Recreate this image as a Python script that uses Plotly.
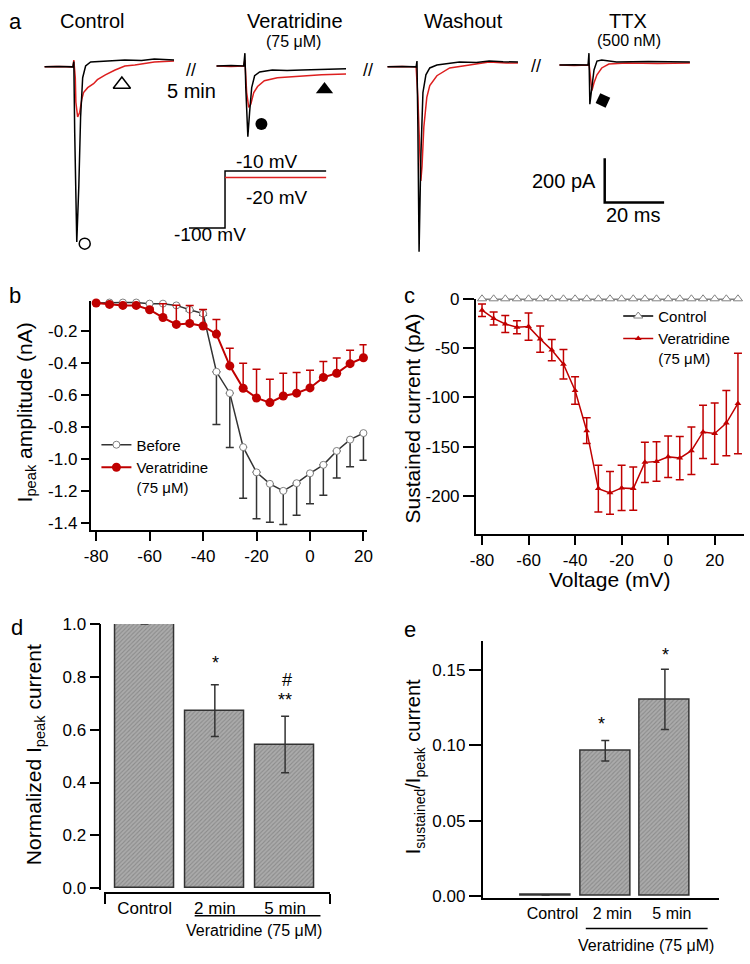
import plotly.graph_objects as go

W, H = 750, 964
FONT = "Liberation Sans, Arial, sans-serif"
RED_TRACE = "#dd1f1f"
RED = "#c00000"
DARK = "#333333"


def fx(px):
    return px / W


def fy(py):
    return 1 - py / H


# ---------------- panel a: example currents (time in ms, current in pA)
ctrl_black_t = [0, 5, 9.7, 10.0, 10.3, 11.0, 11.7, 12.3, 13.0, 14.0, 15.7, 19.0, 23, 27.3, 33, 37.3, 41, 44.0]
ctrl_black_i = [-4, -2, -4, 20, -300, -796, -542, -231, -53, 0, 18, 22, 24, 27, 25, 31, 28, 27]
ctrl_red_t = [0, 4, 9.7, 10.0, 10.5, 10.7, 11.3, 12.0, 12.7, 13.3, 14.7, 15.7, 16.7, 18.0, 20.7, 24.0, 27.3, 30.7, 37.3, 44.0]
ctrl_red_i = [-4, -2, -4, 27, -53, -164, -231, -209, -151, -120, -98, -89, -80, -62, -40, -18, 0, 4, 18, 22]

vera_black_t = [0, 5, 9.3, 9.7, 10.0, 10.7, 11.3, 12.0, 13.0, 14.7, 19.0, 24, 29.0, 36, 44.0]
vera_black_i = [0, 2, 0, 58, -98, -320, -209, -98, -44, -27, -18, -20, -18, -15, -13]
vera_red_t = [0, 5, 9.3, 9.7, 10.3, 11.0, 11.7, 12.7, 14.0, 16.3, 20.7, 29.0, 35.7, 44.0]
vera_red_i = [0, -2, 0, 27, -120, -187, -173, -120, -93, -67, -53, -44, -40, -36]

wash_black_t = [0, 5, 9.7, 10.0, 10.3, 10.7, 11.3, 12.0, 13.0, 14.3, 16.7, 24.3, 30, 34.3, 39, 44.0]
wash_black_i = [-4, -2, -4, 22, -276, -840, -409, -120, -40, -9, 4, 18, 16, 22, 19, 18]
wash_red_t = [0, 5, 9.7, 10.3, 11.0, 11.3, 11.7, 12.3, 13.3, 14.3, 16.7, 21.0, 27.7, 34.3, 40, 44.0]
wash_red_i = [-4, -2, -4, -142, -409, -520, -453, -276, -142, -89, -44, -9, 4, 18, 14, 13]

ttx_black_t = [0, 5, 9.7, 10.0, 10.3, 11.0, 11.7, 12.7, 14.3, 19.3, 30, 44.0]
ttx_black_i = [4, 6, 4, 58, -173, -98, -18, 22, 27, 18, 20, 18]
ttx_red_t = [0, 5, 9.7, 10.0, 10.7, 11.0, 11.7, 12.7, 14.3, 16.7, 22.7, 33, 44.0]
ttx_red_i = [4, 2, 4, 13, -76, -111, -76, -40, -9, 9, 13, 11, 13]

# symbols that mark where values were measured (time ms, current pA)
sym_ctrl_sust = (26.3, -84)
sym_ctrl_peak = (13.7, -804)
sym_vera_peak = (15.3, -262)
sym_vera_sust = (36.7, -107)
sym_ttx_peak = (14.7, -156)

# scale bar
scale_ms = 20
scale_pa = 200
scale_origin = (15.3, -618)

# voltage protocol (ms, mV)
proto_black_t = [0, 12.3, 12.3, 46.7]
proto_black_v = [-100, -100, -10, -10]
proto_red_t = [12.3, 46.7]
proto_red_v = [-20, -20]

# ---------------- panel b: I-V of peak current
b_volt = [-80, -75, -70, -65, -60, -55, -50, -45, -40, -35, -30, -25, -20, -15, -10, -5, 0, 5, 10, 15, 20]
b_before = [-0.023, -0.02, -0.02, -0.02, -0.027, -0.027, -0.038, -0.065, -0.089, -0.454, -0.588, -0.926,
            -1.084, -1.156, -1.20, -1.152, -1.09, -1.037, -0.95, -0.879, -0.838]
b_before_err = [0, 0, 0, 0, 0, 0, 0, 0.01, 0.01, 0.33, 0.34, 0.32, 0.29, 0.24, 0.21, 0.2, 0.19, 0.19, 0.17, 0.17, 0.17]
b_vera = [-0.023, -0.032, -0.038, -0.038, -0.065, -0.114, -0.157, -0.151, -0.167, -0.218, -0.417, -0.557,
          -0.618, -0.647, -0.606, -0.588, -0.555, -0.489, -0.463, -0.403, -0.366]
b_vera_err = [0, 0, 0, 0, 0.01, 0.086, 0.12, 0.113, 0.104, 0.092, 0.11, 0.156, 0.18, 0.147, 0.143, 0.13,
              0.111, 0.10, 0.095, 0.084, 0.082]
b_yticks = [-0.2, -0.4, -0.6, -0.8, -1.0, -1.2, -1.4]
b_yticktext = ["-0.2", "-0.4", "-0.6", "-0.8", "-1.0", "-1.2", "-1.4"]
b_xticks = [-80, -60, -40, -20, 0, 20]
b_xticktext = ["-80", "-60", "-40", "-20", "0", "20"]

# ---------------- panel c: sustained current
c_volt = [-80, -75, -70, -65, -60, -55, -50, -45, -40, -35, -30, -25, -20, -15, -10, -5, 0, 5, 10, 15, 20, 25, 30]
c_control = [0] * 23
c_vera = [-11.6, -19.9, -25.5, -28.9, -28.2, -40.8, -52, -66.3, -92.9, -133.7, -192.4, -196.7, -191.7,
          -192.4, -165.8, -164.9, -160.2, -161.5, -154, -135, -136.6, -126, -106.1]
c_vera_err = [6.3, 6.6, 8.6, 6.6, 13.8, 13.3, 10.8, 15, 14, 13, 23.7, 21.6, 23, 22, 20.5, 20, 21, 22, 24,
              27, 31, 33, 51]
c_yticks = [0, -50, -100, -150, -200]
c_yticktext = ["0", "-50", "-100", "-150", "-200"]
c_xticks = [-80, -60, -40, -20, 0, 20]
c_xticktext = ["-80", "-60", "-40", "-20", "0", "20"]

# ---------------- panel d: normalized peak current
d_labels = ["Control", "2 min", "5 min"]
d_pos = [0, 1, 2]
d_vals = [1.0, 0.672, 0.544]
d_err = [0, 0.098, 0.107]
d_yticks = [0.0, 0.2, 0.4, 0.6, 0.8, 1.0]
d_yticktext = ["0.0", "0.2", "0.4", "0.6", "0.8", "1.0"]

# ---------------- panel e: sustained / peak ratio
e_labels = ["Control", "2 min", "5 min"]
e_pos = [0, 1, 2]
e_vals = [0.0008, 0.0965, 0.1306]
e_err = [0, 0.0068, 0.020]
e_yticks = [0.0, 0.05, 0.10, 0.15]
e_yticktext = ["0.00", "0.05", "0.10", "0.15"]

fig = go.Figure()

# ---- panel a traces
a_sets = [
    ("", ctrl_black_t, ctrl_black_i, ctrl_red_t, ctrl_red_i),
    ("2", vera_black_t, vera_black_i, vera_red_t, vera_red_i),
    ("3", wash_black_t, wash_black_i, wash_red_t, wash_red_i),
    ("4", ttx_black_t, ttx_black_i, ttx_red_t, ttx_red_i),
]
for ax, tb, ib, tr, ir in a_sets:
    fig.add_trace(go.Scatter(x=tr, y=ir, mode="lines", line=dict(color=RED_TRACE, width=1.5),
                             xaxis="x" + ax, yaxis="y" + ax, showlegend=False))
    fig.add_trace(go.Scatter(x=tb, y=ib, mode="lines", line=dict(color="black", width=1.5),
                             xaxis="x" + ax, yaxis="y" + ax, showlegend=False))

fig.add_trace(go.Scatter(x=[sym_ctrl_sust[0]], y=[sym_ctrl_sust[1]], mode="markers",
                         marker=dict(symbol="triangle-up-open", size=15, color="black", line=dict(width=1.5)),
                         xaxis="x", yaxis="y", showlegend=False, cliponaxis=False))
fig.add_trace(go.Scatter(x=[sym_ctrl_peak[0]], y=[sym_ctrl_peak[1]], mode="markers",
                         marker=dict(symbol="circle-open", size=11, color="black", line=dict(width=1.5)),
                         xaxis="x", yaxis="y", showlegend=False, cliponaxis=False))
fig.add_trace(go.Scatter(x=[sym_vera_peak[0]], y=[sym_vera_peak[1]], mode="markers",
                         marker=dict(symbol="circle", size=12, color="black"),
                         xaxis="x2", yaxis="y2", showlegend=False, cliponaxis=False))
fig.add_trace(go.Scatter(x=[sym_vera_sust[0]], y=[sym_vera_sust[1]], mode="markers",
                         marker=dict(symbol="triangle-up", size=15, color="black"),
                         xaxis="x2", yaxis="y2", showlegend=False, cliponaxis=False))
fig.add_trace(go.Scatter(x=[sym_ttx_peak[0]], y=[sym_ttx_peak[1]], mode="markers",
                         marker=dict(symbol="square", size=11, color="black", angle=25),
                         xaxis="x4", yaxis="y4", showlegend=False, cliponaxis=False))

# scale bar
sx, sy = scale_origin
fig.add_trace(go.Scatter(x=[sx, sx, sx + scale_ms], y=[sy + scale_pa, sy, sy], mode="lines",
                         line=dict(color="black", width=2.5), xaxis="x4", yaxis="y4",
                         showlegend=False, cliponaxis=False))

# voltage protocol
fig.add_trace(go.Scatter(x=proto_black_t, y=proto_black_v, mode="lines", line=dict(color="black", width=1.5),
                         xaxis="x5", yaxis="y5", showlegend=False))
fig.add_trace(go.Scatter(x=proto_red_t, y=proto_red_v, mode="lines", line=dict(color=RED_TRACE, width=1.5),
                         xaxis="x5", yaxis="y5", showlegend=False))

# ---- panel b
fig.add_trace(go.Scatter(
    x=b_volt, y=b_before, mode="lines+markers", name="Before",
    line=dict(color=DARK, width=1.5),
    marker=dict(symbol="circle", size=7, color="white", line=dict(color="#808080", width=1)),
    error_y=dict(type="data", symmetric=False, array=[0] * len(b_before_err), arrayminus=b_before_err,
                 color=DARK, thickness=1.5, width=4),
    xaxis="x6", yaxis="y6", legend="legend", cliponaxis=False))
fig.add_trace(go.Scatter(
    x=b_volt, y=b_vera, mode="lines+markers", name="Veratridine<br>(75 \u03bcM)",
    line=dict(color=RED, width=2),
    marker=dict(symbol="circle", size=9, color=RED),
    error_y=dict(type="data", symmetric=False, array=b_vera_err, arrayminus=[0] * len(b_vera_err),
                 color=RED, thickness=1.5, width=4),
    xaxis="x6", yaxis="y6", legend="legend", cliponaxis=False))

# ---- panel c
fig.add_trace(go.Scatter(
    x=c_volt, y=c_control, mode="lines+markers", name="Control",
    line=dict(color="black", width=1.5),
    marker=dict(symbol="triangle-up", size=8, color="white", line=dict(color="#808080", width=1)),
    xaxis="x7", yaxis="y7", legend="legend2", cliponaxis=False))
fig.add_trace(go.Scatter(
    x=c_volt, y=c_vera, mode="lines+markers", name="Veratridine<br>(75 \u03bcM)",
    line=dict(color=RED, width=1.5),
    marker=dict(symbol="triangle-up", size=6, color=RED),
    error_y=dict(type="data", array=c_vera_err, color=RED, thickness=1.5, width=4),
    xaxis="x7", yaxis="y7", legend="legend2", cliponaxis=False))

# ---- panel d and e bars
bar_pattern = dict(shape="/", fgcolor="#6a6a6a", bgcolor="#ababab", size=3, solidity=0.35)
fig.add_trace(go.Bar(
    x=d_pos, y=d_vals, width=0.84,
    marker=dict(color="#ababab", pattern=bar_pattern, line=dict(color=DARK, width=1.5)),
    error_y=dict(type="data", array=d_err, color=DARK, thickness=1.5, width=4),
    xaxis="x8", yaxis="y8", showlegend=False))
fig.add_trace(go.Bar(
    x=e_pos, y=e_vals, width=0.84,
    marker=dict(color="#ababab", pattern=bar_pattern, line=dict(color=DARK, width=1.5)),
    error_y=dict(type="data", array=e_err, color=DARK, thickness=1.5, width=4),
    xaxis="x9", yaxis="y9", showlegend=False))

# ---- axes
hidden = dict(visible=False, showgrid=False, zeroline=False, fixedrange=True)
a_ydom = [fy(250), fy(40)]
a_yrange = [-853.3, 80]
a_xdoms = [(38, 170), (213, 345), (387, 520), (562, 695)]
names = ["", "2", "3", "4"]
for n, (x0, x1) in zip(names, a_xdoms):
    fig.update_layout(**{
        "xaxis" + n: dict(hidden, domain=[fx(x0), fx(x1)], range=[0, 44], anchor="y" + n),
        "yaxis" + n: dict(hidden, domain=a_ydom, range=a_yrange, anchor="x" + n),
    })
fig.update_layout(
    xaxis5=dict(hidden, domain=[fx(185), fx(325)], range=[0, 46.7], anchor="y5"),
    yaxis5=dict(hidden, domain=[fy(232), fy(155)], range=[-114, 5.5], anchor="x5"),
)

axis_style = dict(showline=True, linecolor="black", linewidth=1.5, ticks="outside", ticklen=8,
                  tickwidth=1.5, tickcolor="black", showgrid=False, zeroline=False,
                  tickfont=dict(size=17, color="black"))

fig.update_layout(
    xaxis6=dict(axis_style, domain=[fx(85), fx(366)], range=[-82.1, 21.2], anchor="y6",
                tickvals=b_xticks, ticktext=b_xticktext, ticklen=10),
    yaxis6=dict(axis_style, domain=[fy(530), fy(297)], range=[-1.443, -0.009], anchor="x6",
                tickvals=b_yticks, ticktext=b_yticktext),
    xaxis7=dict(axis_style, domain=[fx(477), fx(750)], range=[-82.7, 32.6], anchor="y7",
                tickvals=c_xticks, ticktext=c_xticktext, ticklen=10),
    yaxis7=dict(axis_style, domain=[fy(534), fy(295)], range=[-238, 0], anchor="x7",
                tickvals=c_yticks, ticktext=c_yticktext, ticklen=11),
    xaxis8=dict(axis_style, domain=[fx(99), fx(329)], range=[-0.573, 2.643], anchor="free",
                position=fy(900), tickvals=d_pos, ticktext=d_labels, ticks="",
                tickfont=dict(size=17, color="black"),
                minor=dict(tickvals=[-0.563, 2.633], ticks="outside", ticklen=10, tickwidth=1.5,
                           tickcolor="black", showgrid=False)),
    yaxis8=dict(axis_style, domain=[fy(897), fy(626)], range=[-0.0074, 1.0], anchor="free",
                position=fx(95), tickvals=d_yticks, ticktext=d_yticktext, ticklen=10),
    xaxis9=dict(axis_style, domain=[fx(484), fx(725)], range=[-1.056, 2.914], anchor="y9",
                tickvals=e_pos, ticktext=e_labels, ticks="", ticklabelshift=7,
                tickfont=dict(size=16, color="black")),
    yaxis9=dict(axis_style, domain=[fy(905), fy(643)], range=[-0.0013, 0.1695], anchor="x9",
                tickvals=e_yticks, ticktext=e_yticktext, ticklen=12),
)


# ---- text
def txt(text, px, py, size=17, xanchor="center", angle=0):
    return dict(text=text, x=fx(px), y=fy(py), xref="paper", yref="paper", showarrow=False,
                xanchor=xanchor, yanchor="middle", textangle=angle,
                font=dict(size=size, color="black", family=FONT))


annotations = [
    txt("a", 0, 13, 22, "left"),
    txt("Control", 86, 12, 20),
    txt("Veratridine", 293, 12, 20),
    txt("(75 \u03bcM)", 292, 33, 16),
    txt("Washout", 465, 12, 20),
    txt("TTX", 632, 12, 20),
    txt("(500 nM)", 633, 32, 16),
    txt("//", 187, 62, 18),
    txt("5 min", 188, 83, 20),
    txt("//", 367, 62, 18),
    txt("//", 538, 58, 18),
    txt("-10 mV", 265, 155, 19),
    txt("-20 mV", 275, 192, 19),
    txt("-100 mV", 207, 230, 19),
    txt("200 pA", 601, 175, 20, "right"),
    txt("20 ms", 637, 210, 20),
    txt("b", 0, 292, 22, "left"),
    txt("I<sub>peak</sub> amplitude (nA)", 19, 411, 21, angle=-90),
    txt("c", 402, 292, 22, "left"),
    txt("Sustained current (pA)", 413, 417, 21, angle=-90),
    txt("Voltage (mV)", 613, 581, 21),
    txt("d", 2, 630, 22, "left"),
    txt("Normalized I<sub>peak</sub> current", 28, 759, 21, angle=-90),
    txt("*", 212, 666, 18),
    txt("#", 285, 683, 18),
    txt("**", 283, 703, 18),
    txt("Veratridine (75 \u03bcM)", 251, 938, 16),
    txt("e", 402, 632, 22, "left"),
    txt("I<sub>sustained</sub>/I<sub>peak</sub> current", 415, 771, 20, angle=-90),
    txt("*", 605, 728, 18),
    txt("*", 670, 658, 18),
    txt("Veratridine (75 \u03bcM)", 650, 953, 16),
]

shapes = [
    dict(type="line", xref="paper", yref="paper", x0=fx(191), x1=fx(319), y0=fy(923), y1=fy(923),
         line=dict(color="black", width=1.5)),
    dict(type="line", xref="paper", yref="paper", x0=fx(589), x1=fx(713), y0=fy(936), y1=fy(936),
         line=dict(color="black", width=1.5)),
]

legend_style = dict(xanchor="left", yanchor="top", bgcolor="rgba(0,0,0,0)", borderwidth=0,
                    font=dict(size=15, color="black", family=FONT), tracegroupgap=0,
                    itemwidth=30, valign="top")

fig.update_layout(
    width=W, height=H,
    margin=dict(l=0, r=0, t=0, b=0),
    paper_bgcolor="white", plot_bgcolor="white",
    font=dict(family=FONT, color="black"),
    annotations=annotations,
    shapes=shapes,
    legend=dict(legend_style, x=fx(91), y=fy(427)),
    legend2=dict(legend_style, x=fx(622), y=fy(296)),
    bargap=0,
)

# the page body has a default margin; drop it so the figure fills the window exactly
fig.write_html("out.html", config={"displayModeBar": False},
               post_script="document.body.style.margin='0';document.body.style.overflow='hidden';")
